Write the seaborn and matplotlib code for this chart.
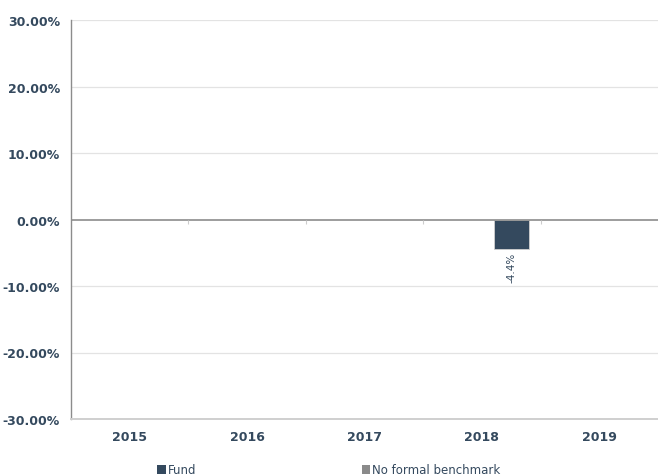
import numpy as np
import pandas as pd
import seaborn as sns
import matplotlib.pyplot as plt
from matplotlib.patches import Patch

years = ['2015', '2016', '2017', '2018', '2019']
fund = [np.nan, np.nan, np.nan, -4.4, np.nan]
benchmark = [np.nan, np.nan, np.nan, np.nan, np.nan]
series_names = ['Fund', 'No formal benchmark']
colors = ['#34495e', '#8a8a8a']

df = pd.DataFrame({
    'year': years * 2,
    'value': fund + benchmark,
    'series': ['Fund'] * 5 + ['No formal benchmark'] * 5,
})

sns.set_style('white')
plt.rcParams['font.family'] = ['DejaVu Sans']
text_col = '#34495e'

fig = plt.figure(figsize=(6.58, 4.77), dpi=100)
ax = fig.add_axes([71/658, 1-420/477, 587/658, 399/477])

sns.barplot(data=df, x='year', y='value', hue='series',
            hue_order=['No formal benchmark', 'Fund'],
            palette={'Fund': colors[0], 'No formal benchmark': colors[1]},
            order=years, width=1.0, gap=0.4, ax=ax, legend=False,
            errorbar=None, saturation=1)

ax.set_ylim(-30, 30)
ax.set_xlim(-0.5, 4.5)
ax.set_yticks(np.arange(-30, 31, 10))
ax.set_yticklabels([f'{v:.2f}%' for v in np.arange(-30, 31, 10)],
                   fontsize=9, fontweight='bold', color=text_col)
ax.set_xticks(range(len(years)))
ax.set_xticklabels(years, fontsize=9, fontweight='bold', color=text_col)
ax.set_xlabel('')
ax.set_ylabel('')

for y in np.arange(-20, 31, 10):
    if y != 0:
        ax.axhline(y, color='#e3e3e3', lw=0.9, zorder=0)
ax.axhline(0, color='#8c8c8c', lw=1.2, zorder=3)
ax.vlines([0.5, 1.5, 2.5, 3.5], -0.7, 0, color='#cccccc', lw=0.8, zorder=3)

for s in ['top', 'right']:
    ax.spines[s].set_visible(False)
ax.spines['left'].set_color('#8c8c8c')
ax.spines['left'].set_linewidth(1.0)
ax.spines['bottom'].set_color('#cfcfcf')
ax.spines['bottom'].set_linewidth(1.4)
ax.tick_params(axis='y', length=4, color='#b0b0b0', pad=4)
ax.tick_params(axis='x', length=0, pad=8)

# value label under the fund bar
for bar in ax.patches:
    h = bar.get_height()
    if np.isfinite(h) and h != 0 and bar.get_facecolor()[:3] == plt.matplotlib.colors.to_rgb(colors[0]):
        bar.set_edgecolor('#d0d0d0')
        bar.set_linewidth(0.6)
        ax.text(bar.get_x() + bar.get_width()/2, h - 0.4, f'{h:.1f}%',
                rotation=90, ha='center', va='top', fontsize=7.5, color=text_col)

handles = [Patch(facecolor=c, edgecolor='none') for c in colors]
fig.legend(handles, series_names, loc='center', bbox_to_anchor=(0.5, 1-471/477),
           ncol=2, frameon=False, fontsize=8.5, handlelength=0.7, handleheight=0.7,
           handletextpad=0.2, columnspacing=14, labelcolor=text_col)

fig.savefig('out.png', dpi=100)
